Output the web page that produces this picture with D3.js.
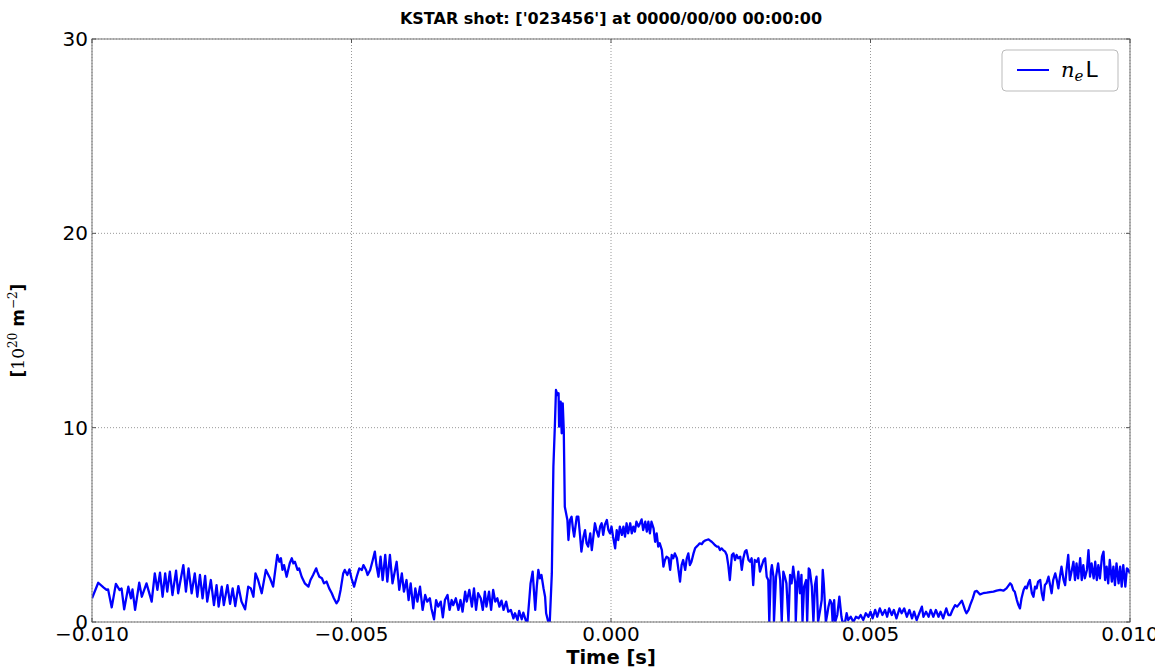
<!DOCTYPE html>
<html>
<head>
<meta charset="utf-8">
<script src="https://cdn.jsdelivr.net/npm/d3@7"></script>
<style>
  body { margin: 0; background: #fff; }
  text { font-family: "DejaVu Sans", sans-serif; }
</style>
</head>
<body>
<div id="chart"></div>
<script>
// time in ms, line-integrated density in 10^20 m^-2
var neL = [
  [-10.00,1.22],[-9.88,2.02],[-9.78,1.78],[-9.72,1.65],[-9.69,1.68],[-9.62,0.75],[-9.54,1.96],[-9.47,1.65],[-9.43,1.72],[-9.38,0.65],
  [-9.30,1.82],[-9.25,1.22],[-9.22,1.68],[-9.17,0.62],[-9.09,2.02],[-9.04,1.30],[-8.95,1.99],[-8.85,1.05],[-8.79,2.50],[-8.74,1.65],
  [-8.69,2.54],[-8.64,1.30],[-8.59,2.50],[-8.55,1.56],[-8.50,2.59],[-8.45,1.39],[-8.38,2.64],[-8.34,1.48],[-8.24,2.93],[-8.19,1.56],
  [-8.14,2.76],[-8.08,1.48],[-8.02,2.50],[-7.97,1.30],[-7.92,2.42],[-7.87,1.22],[-7.82,2.37],[-7.78,1.05],[-7.71,2.16],[-7.65,0.87],
  [-7.60,1.90],[-7.56,0.79],[-7.50,1.82],[-7.46,0.87],[-7.39,1.90],[-7.34,0.93],[-7.29,1.73],[-7.24,0.82],[-7.18,1.85],[-7.12,1.05],
  [-7.05,0.65],[-6.99,1.82],[-6.94,1.73],[-6.89,1.30],[-6.85,2.50],[-6.80,2.16],[-6.73,1.48],[-6.65,2.68],[-6.57,2.25],
  [-6.51,1.82],[-6.43,3.45],[-6.39,3.10],[-6.36,3.28],[-6.33,2.68],[-6.30,2.93],[-6.25,2.33],[-6.19,3.02],[-6.15,3.28],[-6.12,3.02],
  [-6.09,3.10],[-6.04,2.68],[-6.01,2.76],[-5.96,2.33],[-5.90,1.99],[-5.83,1.82],[-5.79,2.16],[-5.74,2.42],[-5.68,2.76],[-5.66,2.59],
  [-5.62,2.33],[-5.57,2.25],[-5.53,1.99],[-5.48,2.08],[-5.43,1.73],[-5.38,1.48],[-5.34,1.22],[-5.29,0.96],[-5.25,1.13],[-5.21,1.65],
  [-5.16,2.50],[-5.13,2.68],[-5.08,2.42],[-5.04,2.71],[-5.00,2.25],[-4.95,1.82],[-4.90,2.33],[-4.85,2.76],[-4.80,2.68],[-4.77,2.93],
  [-4.72,2.68],[-4.69,2.42],[-4.64,2.68],[-4.59,3.19],[-4.55,3.62],[-4.52,2.93],[-4.48,2.33],[-4.44,3.36],[-4.40,2.16],[-4.35,3.45],
  [-4.31,2.08],[-4.26,3.45],[-4.21,1.99],[-4.13,3.10],[-4.08,1.65],[-4.03,2.50],[-3.99,1.56],[-3.94,2.16],[-3.90,1.13],[-3.86,1.99],
  [-3.81,0.70],[-3.77,1.73],[-3.73,1.05],[-3.68,1.82],[-3.63,0.62],[-3.58,1.39],[-3.54,1.05],[-3.49,1.22],[-3.46,0.70],[-3.41,0.14],
  [-3.37,1.13],[-3.33,0.79],[-3.28,1.05],[-3.24,0.24],[-3.20,1.13],[-3.15,1.39],[-3.11,0.62],[-3.07,1.13],[-3.04,0.87],[-2.99,1.22],
  [-2.94,0.62],[-2.90,1.13],[-2.86,0.53],[-2.81,1.56],[-2.78,1.05],[-2.73,1.65],[-2.68,0.79],[-2.64,1.73],[-2.60,0.62],[-2.56,1.48],
  [-2.51,1.22],[-2.47,0.62],[-2.43,1.56],[-2.40,0.79],[-2.35,1.56],[-2.31,0.62],[-2.27,1.65],[-2.23,1.05],[-2.19,1.22],[-2.15,0.79],
  [-2.11,1.10],[-2.07,0.62],[-2.02,1.05],[-1.98,0.53],[-1.93,0.62],[-1.88,0.19],[-1.85,0.45],[-1.80,0.10],[-1.77,0.57],[-1.72,0.14],
  [-1.69,0.48],[-1.64,0.07],[-1.61,0.00],[-1.57,1.30],[-1.55,1.99],[-1.51,2.59],[-1.46,0.62],[-1.43,1.82],[-1.40,2.68],[-1.37,2.25],
  [-1.34,2.42],[-1.30,1.73],[-1.27,1.30],[-1.25,0.45],[-1.21,0.02],[-1.18,0.00],
  [-1.14,2.50],[-1.11,7.99],[-1.08,10.22],[-1.06,11.94],[-1.03,11.68],[-1.01,11.77],[-1.00,10.05],[-0.97,11.34],[-0.95,9.71],[-0.93,11.25],
  [-0.91,9.88],[-0.89,5.93],[-0.84,5.25],[-0.82,4.22],[-0.79,5.25],[-0.76,5.42],[-0.73,4.73],[-0.71,4.39],[-0.66,5.42],[-0.63,5.42],
  [-0.60,4.56],[-0.57,3.62],[-0.53,4.39],[-0.50,4.73],[-0.47,4.05],[-0.44,3.88],[-0.40,4.56],[-0.37,3.70],[-0.34,4.39],[-0.31,5.08],
  [-0.28,4.73],[-0.24,4.39],[-0.21,4.91],[-0.18,5.08],[-0.15,4.48],[-0.12,4.99],[-0.08,5.25],[-0.05,4.73],[-0.02,4.56],[0.01,4.91],
  [0.04,4.39],[0.08,3.79],[0.11,4.73],[0.14,4.22],[0.17,4.91],[0.21,4.48],[0.24,4.91],[0.27,4.39],[0.30,5.08],[0.33,4.56],
  [0.37,5.08],[0.40,4.56],[0.43,4.91],[0.46,4.65],[0.49,5.16],[0.53,4.91],[0.56,5.08],
  [0.59,5.28],[0.62,4.73],[0.66,5.16],[0.69,4.65],[0.72,5.16],[0.75,4.56],[0.78,5.16],[0.82,4.82],[0.85,4.13],[0.88,4.56],
  [0.91,3.88],[0.94,4.05],[0.98,3.70],[1.01,2.85],[1.04,3.19],[1.07,3.36],[1.11,3.28],[1.14,2.68],[1.17,3.45],[1.20,3.28],
  [1.23,3.53],[1.27,3.28],[1.30,2.68],[1.33,2.08],[1.36,2.93],[1.39,3.19],[1.43,2.68],[1.46,3.28],[1.49,3.53],[1.52,2.93],
  [1.55,3.10],[1.59,3.53],[1.62,3.79],[1.65,3.88],[1.68,3.96],[1.71,4.05],[1.75,4.01],[1.78,4.13],[1.81,4.19],[1.84,4.22],
  [1.88,4.25],[1.91,4.19],[1.94,4.13],[1.97,4.05],[2.00,3.96],[2.04,3.88],[2.07,3.88],[2.10,3.70],[2.13,3.79],[2.16,3.70],
  [2.20,3.62],[2.23,3.45],[2.26,2.93],[2.29,2.16],[2.33,3.45],[2.36,3.53],[2.39,3.19],[2.42,3.45],[2.45,3.28],[2.49,3.36],
  [2.52,2.68],[2.55,3.28],[2.58,3.62],[2.61,3.70],[2.65,3.19],[2.68,3.10],[2.71,3.28],[2.74,1.90],[2.77,3.19],[2.81,3.10],
  [2.84,3.28],[2.87,2.59],[2.90,2.85],[2.94,3.19],[2.97,3.28],[3.00,2.33],[3.03,2.16],[3.05,0.00],[3.08,2.59],[3.10,2.93],
  [3.13,2.33],[3.14,0.00],[3.18,2.33],[3.22,3.02],[3.26,2.16],[3.29,0.00],[3.32,2.59],[3.35,2.33],[3.38,1.99],[3.42,0.00],
  [3.45,2.42],[3.48,1.99],[3.51,2.85],[3.55,1.99],[3.56,0.00],[3.59,2.08],[3.61,2.59],
  [3.64,1.48],[3.67,2.42],[3.69,0.00],[3.72,1.82],[3.76,2.16],[3.78,0.00],[3.81,2.76],[3.83,2.68],[3.87,1.82],[3.90,0.00],
  [3.93,1.90],[3.96,2.33],[3.99,0.00],[4.03,0.62],[4.06,1.13],[4.08,2.68],[4.10,1.99],[4.14,0.00],[4.17,0.45],[4.19,0.79],
  [4.22,1.13],[4.25,0.96],[4.27,0.00],[4.30,1.13],[4.32,0.00],[4.36,0.36],[4.40,1.30],[4.44,0.27],[4.46,0.00],[4.51,0.00],
  [4.54,0.45],[4.57,0.10],[4.62,0.27],[4.67,0.00],[4.72,0.27],[4.77,0.19],[4.81,0.36],[4.86,0.10],[4.91,0.45],[4.96,0.27],
  [5.00,0.53],[5.04,0.19],[5.09,0.62],[5.13,0.27],[5.18,0.70],[5.23,0.36],[5.28,0.62],[5.32,0.27],[5.36,0.70],[5.41,0.36],
  [5.45,0.62],[5.50,0.19],[5.56,0.70],[5.60,0.45],[5.65,0.70],[5.70,0.27],[5.75,0.62],[5.80,0.19],[5.84,0.53],[5.89,0.10],
  [5.94,0.45],[5.99,0.79],[6.02,0.27],[6.07,0.53],[6.12,0.27],[6.16,0.62],[6.21,0.27],[6.26,0.62],[6.31,0.27],[6.35,0.53],
  [6.40,0.19],[6.46,0.70],[6.50,0.36],[6.54,0.36],[6.58,0.62],[6.63,0.87],[6.67,0.79],[6.72,0.96],
  [6.76,1.10],[6.79,0.87],[6.82,0.62],[6.85,0.45],[6.89,0.62],[6.92,0.87],[6.97,1.22],[7.01,1.56],[7.05,1.60],[7.11,1.42],
  [7.17,1.48],[7.24,1.51],[7.30,1.54],[7.37,1.56],[7.43,1.61],[7.50,1.65],[7.56,1.61],[7.62,1.73],[7.69,1.99],[7.72,1.90],
  [7.75,1.65],[7.78,1.56],[7.82,1.13],[7.85,0.87],[7.88,0.70],[7.91,1.22],[7.95,1.65],[7.98,1.82],[8.01,1.73],[8.04,1.99],
  [8.07,2.16],[8.11,1.48],[8.14,1.30],[8.17,1.82],[8.20,1.73],[8.23,2.08],[8.27,2.16],[8.30,1.48],[8.33,1.13],[8.36,1.90],
  [8.39,1.99],[8.43,2.33],[8.46,1.90],[8.49,1.48],[8.52,2.16],[8.56,2.50],[8.59,2.16],[8.62,1.73],[8.65,2.33],[8.68,2.85],
  [8.72,2.16],[8.75,1.90],[8.78,2.76],[8.81,3.45],[8.84,2.16],[8.88,2.68],[8.91,3.10],[8.94,2.16],[8.97,3.02],[9.00,2.25],
  [9.04,3.28],[9.07,2.16],[9.10,2.93],[9.13,2.25],[9.17,2.68],[9.20,3.70],[9.23,2.33],[9.26,3.02],[9.30,2.25],[9.33,3.10],
  [9.36,2.16],[9.39,2.93],[9.42,2.25],[9.46,3.36],[9.49,3.62],[9.52,2.16],[9.55,2.85],[9.58,1.99],[9.61,3.19],[9.65,2.08],
  [9.68,2.85],[9.71,1.90],[9.74,3.02],[9.78,1.99],[9.81,2.85],[9.84,1.82],[9.87,2.93],[9.91,1.82],[9.94,2.76],[9.97,2.68],
  [10.00,2.50]
];

var xTicks = [-10, -5, 0, 5, 10];
var xTickLabels = ["\u22120.010", "\u22120.005", "0.000", "0.005", "0.010"];
var yTicks = [0, 10, 20, 30];
var yTickLabels = ["0", "10", "20", "30"];

var width = 1155, height = 667;
var margin = {top: 39, right: 25, bottom: 45, left: 92};

var svg = d3.select("#chart").append("svg")
    .attr("width", width)
    .attr("height", height);

var x = d3.scaleLinear().domain([-10, 10]).range([margin.left, width - margin.right]);
var y = d3.scaleLinear().domain([0, 30]).range([height - margin.bottom, margin.top]);

// grid
var grid = svg.append("g").attr("class", "grid");
xTicks.forEach(function(t) {
    grid.append("line")
        .attr("x1", x(t)).attr("x2", x(t))
        .attr("y1", y(0)).attr("y2", y(30))
        .attr("stroke", "#999").attr("stroke-width", 1)
        .attr("stroke-dasharray", "1,2");
});
yTicks.forEach(function(t) {
    grid.append("line")
        .attr("x1", x(-10)).attr("x2", x(10))
        .attr("y1", y(t)).attr("y2", y(t))
        .attr("stroke", "#999").attr("stroke-width", 1)
        .attr("stroke-dasharray", "1,2");
});

// the trace, clipped to the axes box
svg.append("clipPath").attr("id", "plotclip")
  .append("rect")
    .attr("x", x(-10)).attr("y", y(30))
    .attr("width", x(10) - x(-10)).attr("height", y(0) - y(30));

var line = d3.line()
    .x(function(d) { return x(d[0]); })
    .y(function(d) { return y(d[1]); });

svg.append("path")
    .datum(neL)
    .attr("clip-path", "url(#plotclip)")
    .attr("fill", "none")
    .attr("stroke", "#0000ff")
    .attr("stroke-width", 2.3)
    .attr("stroke-linejoin", "round")
    .attr("d", line);

// frame
svg.append("rect")
    .attr("x", x(-10)).attr("y", y(30))
    .attr("width", x(10) - x(-10)).attr("height", y(0) - y(30))
    .attr("fill", "none").attr("stroke", "#777").attr("stroke-width", 1);

// inward ticks, classic style
var ticks = svg.append("g");
xTicks.forEach(function(t) {
    ticks.append("line").attr("x1", x(t)).attr("x2", x(t)).attr("y1", y(0)).attr("y2", y(0) - 4).attr("stroke", "#555");
    ticks.append("line").attr("x1", x(t)).attr("x2", x(t)).attr("y1", y(30)).attr("y2", y(30) + 4).attr("stroke", "#555");
});
yTicks.forEach(function(t) {
    ticks.append("line").attr("x1", x(-10)).attr("x2", x(-10) + 4).attr("y1", y(t)).attr("y2", y(t)).attr("stroke", "#555");
    ticks.append("line").attr("x1", x(10)).attr("x2", x(10) - 4).attr("y1", y(t)).attr("y2", y(t)).attr("stroke", "#555");
});

// tick labels
svg.append("g").selectAll("text")
    .data(xTicks)
  .enter().append("text")
    .attr("x", function(d) { return x(d); })
    .attr("y", y(0) + 19)
    .attr("text-anchor", "middle")
    .style("font-size", "20px")
    .style("fill", "#000")
    .text(function(d, i) { return xTickLabels[i]; });

svg.append("g").selectAll("text")
    .data(yTicks)
  .enter().append("text")
    .attr("x", x(-10) - 4)
    .attr("y", function(d) { return y(d) + 7; })
    .attr("text-anchor", "end")
    .style("font-size", "20px")
    .style("fill", "#000")
    .text(function(d, i) { return yTickLabels[i]; });

// title and axis labels
svg.append("text")
    .attr("x", (x(-10) + x(10)) / 2)
    .attr("y", 24)
    .attr("text-anchor", "middle")
    .style("font-size", "16px")
    .style("font-weight", "bold")
    .text("KSTAR shot: ['023456'] at 0000/00/00 00:00:00");

svg.append("text")
    .attr("x", (x(-10) + x(10)) / 2)
    .attr("y", 664)
    .attr("text-anchor", "middle")
    .style("font-size", "19.5px")
    .style("font-weight", "bold")
    .text("Time [s]");

var ylab = svg.append("text")
    .attr("transform", "translate(24," + ((y(0) + y(30)) / 2) + ") rotate(-90)")
    .attr("text-anchor", "middle")
    .style("font-size", "17px")
    .style("font-weight", "bold");
ylab.append("tspan").text("[");
ylab.append("tspan").style("font-family", "DejaVu Serif").style("font-weight", "normal").text("10");
ylab.append("tspan").attr("dy", -7).style("font-family", "DejaVu Serif").style("font-weight", "normal").style("font-size", "12px").text("20");
ylab.append("tspan").attr("dy", 7).text(" m");
ylab.append("tspan").attr("dy", -7).style("font-family", "DejaVu Serif").style("font-weight", "normal").style("font-size", "12px").text("\u22122");
ylab.append("tspan").attr("dy", 7).text("]");

// legend
var leg = svg.append("g");
leg.append("rect")
    .attr("x", 1002).attr("y", 50).attr("width", 116).attr("height", 41)
    .attr("rx", 4).attr("fill", "#fff")
    .attr("stroke", "#bbb").attr("stroke-width", 1);
leg.append("line")
    .attr("x1", 1017).attr("x2", 1049).attr("y1", 70).attr("y2", 70)
    .attr("stroke", "#0000ff").attr("stroke-width", 2);
var legText = leg.append("text")
    .attr("x", 1061).attr("y", 77)
    .style("font-size", "21px");
legText.append("tspan").style("font-family", "DejaVu Serif").style("font-style", "italic").text("n");
legText.append("tspan").attr("dy", 4).style("font-family", "DejaVu Serif").style("font-style", "italic").style("font-size", "15px").text("e");
legText.append("tspan").attr("dy", -4).attr("dx", 2).style("font-size", "22px").text("L");
</script>
</body>
</html>
